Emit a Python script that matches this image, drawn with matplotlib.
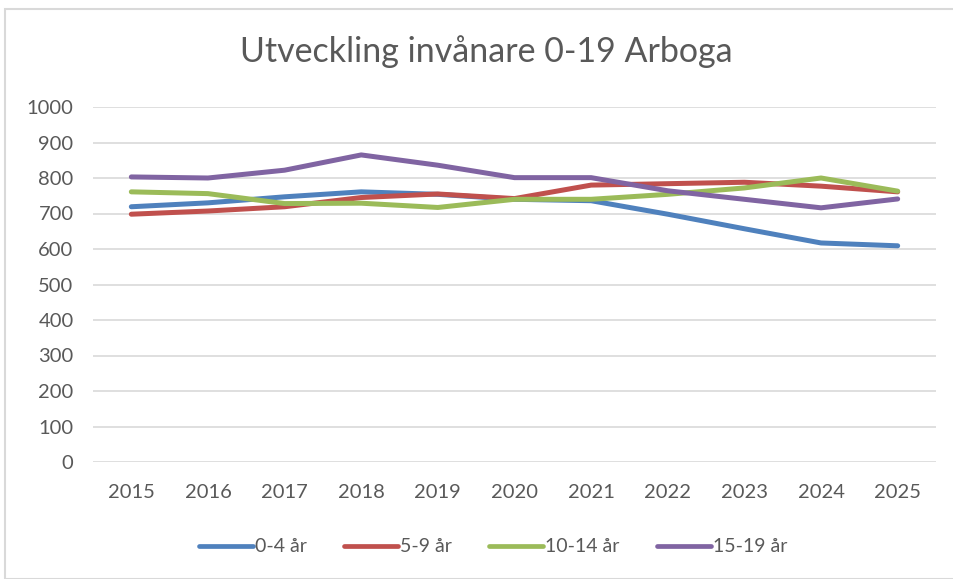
import matplotlib
matplotlib.use("Agg")
import matplotlib.pyplot as plt
from matplotlib.patches import Rectangle

years = ["2015", "2016", "2017", "2018", "2019", "2020", "2021", "2022", "2023", "2024", "2025"]
s_0_4 = [719, 730, 747, 761, 754, 740, 736, 698, 657, 617, 609]
s_5_9 = [698, 707, 719, 745, 755, 742, 780, 784, 788, 777, 761]
s_10_14 = [761, 756, 728, 729, 717, 740, 740, 754, 772, 800, 763]
s_15_19 = [803, 800, 822, 865, 836, 801, 801, 764, 740, 716, 741]
series = [("0-4 år", s_0_4, "#4F81BD"), ("5-9 år", s_5_9, "#C0504D"),
          ("10-14 år", s_10_14, "#9BBB59"), ("15-19 år", s_15_19, "#8064A2")]
yticks = [0, 100, 200, 300, 400, 500, 600, 700, 800, 900, 1000]

plt.rcParams['font.family'] = ['Lato', 'DejaVu Sans']
W, H = 954, 579
fig = plt.figure(figsize=(W / 100, H / 100), dpi=100)
fig.patches.append(Rectangle((5 / W, 0), 1, 1 - 9 / H, transform=fig.transFigure,
                             fill=False, edgecolor="#d9d9d9", linewidth=1.5))

ax = fig.add_axes([93 / W, 1 - 462 / H, (936 - 93) / W, (462 - 107) / H])
x = list(range(len(years)))
for name, vals, col in series:
    ax.plot(x, vals, color=col, linewidth=3.6, label=name, solid_capstyle="round",
            solid_joinstyle="round")

ax.set_xlim(-0.5, len(years) - 0.5)
ax.set_ylim(0, 1000)
ax.set_yticks(yticks)
ax.set_yticklabels([str(v) for v in yticks])
ax.set_xticks(x)
ax.set_xticklabels(years)
ax.grid(axis="y", color="#d9d9d9", linewidth=1.2)
ax.set_axisbelow(True)
for s in ax.spines.values():
    s.set_visible(False)
ax.tick_params(axis="both", length=0, labelsize=14.5, colors="#595959")
ax.tick_params(axis="y", pad=14)
ax.tick_params(axis="x", pad=16)

fig.text(486 / W, 1 - 52 / H, "Utveckling invånare 0-19 Arboga", ha="center", va="center",
         fontsize=24.5, color="#595959")

leg = fig.legend(loc="center", bbox_to_anchor=(493 / W, 1 - 547 / H), ncol=4, frameon=False,
                 fontsize=14, handlelength=2.8, handletextpad=0.1, columnspacing=1.9)
for t in leg.get_texts():
    t.set_color("#595959")
for l in leg.get_lines():
    l.set_linewidth(3.4)

fig.savefig("out.png", dpi=100)
